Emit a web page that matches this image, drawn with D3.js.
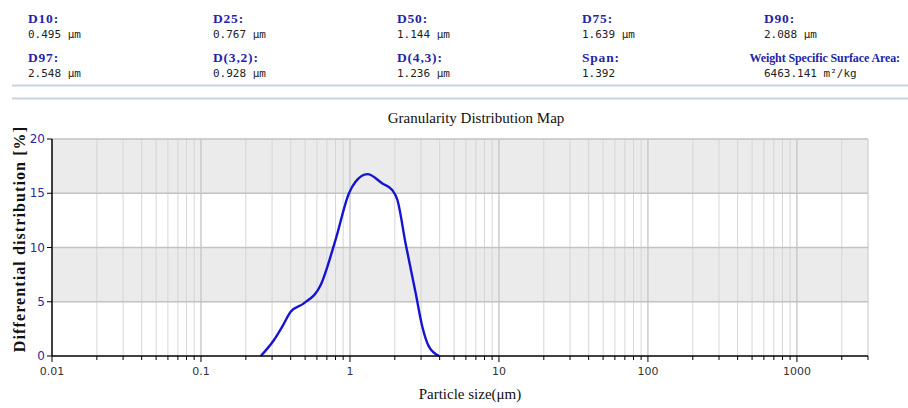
<!DOCTYPE html>
<html>
<head>
<meta charset="utf-8">
<script src="https://cdn.jsdelivr.net/npm/d3@7"></script>
<style>
  body { margin: 0; background: #fff; }
  svg { display: block; }
</style>
</head>
<body>
<div id="main"></div>
<script>
// summary stats shown in the header
const statLabels = ["D10:", "D25:", "D50:", "D75:", "D90:", "D97:", "D(3,2):", "D(4,3):", "Span:", "Weight Specific Surface Area:"];
const statValues = ["0.495 μm", "0.767 μm", "1.144 μm", "1.639 μm", "2.088 μm", "2.548 μm", "0.928 μm", "1.236 μm", "1.392", "6463.141 m²/kg"];

// distribution curve
const sizes = [0.252, 0.309, 0.351, 0.40, 0.49, 0.636, 0.80, 0.985, 1.09, 1.31, 1.65, 1.92, 2.08, 2.36, 2.76, 3.06, 3.39, 3.96];
const diffs = [0, 1.47, 2.7, 4.08, 4.85, 6.54, 10.7, 15.0, 16.05, 16.76, 15.9, 15.3, 14.4, 10.4, 5.8, 2.7, 0.86, 0];

const xTicks = [0.01, 0.1, 1, 10, 100, 1000];
const xTickLabels = ["0.01", "0.1", "1", "10", "100", "1000"];
const yTicks = [0, 5, 10, 15, 20];

const W = 908, H = 408;
const margin = { top: 139, right: 40, bottom: 52, left: 52 };
const width = W - margin.left - margin.right,
    height = H - margin.top - margin.bottom;

const svg = d3.select("#main")
    .append("svg")
    .attr("width", W)
    .attr("height", H);

// header
const colX = [28, 213, 397, 582, 764];
const header = svg.append("g");
statLabels.forEach((lab, i) => {
    const row = Math.floor(i / 5), col = i % 5;
    const last = i === 9;
    header.append("text")
        .attr("x", last ? 900 : colX[col])
        .attr("y", row === 0 ? 23 : 62)
        .attr("text-anchor", last ? "end" : "start")
        .style("font-family", "'Liberation Serif', serif")
        .style("font-weight", "bold")
        .style("font-size", last ? "12px" : "13.5px")
        .style("letter-spacing", last ? "-0.1px" : "0.8px")
        .style("fill", "#2424a8")
        .text(lab);
    header.append("text")
        .attr("x", colX[col])
        .attr("y", row === 0 ? 38 : 77)
        .style("font-family", "'DejaVu Sans Mono', monospace")
        .style("font-size", "11px")
        .style("fill", "#222")
        .text(statValues[i]);
});

header.append("line").attr("x1", 12).attr("x2", W).attr("y1", 85.5).attr("y2", 85.5)
    .style("stroke", "#c9d3df").style("stroke-width", 2);
header.append("line").attr("x1", 12).attr("x2", W).attr("y1", 98.5).attr("y2", 98.5)
    .style("stroke", "#c9d3df").style("stroke-width", 2);

// scales
const x = d3.scaleLog()
    .domain([0.01, 3000])
    .range([0, width]);

const y = d3.scaleLinear()
    .domain([0, 20])
    .range([height, 0]);

const g = svg.append("g")
    .attr("transform", `translate(${margin.left},${margin.top})`);

// alternating bands
for (let i = 0; i < yTicks.length - 1; i++) {
    g.append("rect")
        .attr("x", 0)
        .attr("y", y(yTicks[i + 1]))
        .attr("width", width)
        .attr("height", y(yTicks[i]) - y(yTicks[i + 1]))
        .style("fill", i % 2 === 1 ? "#ebebeb" : "#ffffff");
}

// vertical grid: minor and major
const allTicks = x.ticks().filter(t => t > 0.01 && t <= 3000);
g.selectAll(".vgrid")
    .data(allTicks)
    .join("line")
    .attr("class", "vgrid")
    .attr("x1", d => x(d)).attr("x2", d => x(d))
    .attr("y1", 0).attr("y2", height)
    .style("stroke", d => xTicks.includes(d) ? "#c4c4c4" : "#d6d6d6")
    .style("stroke-width", d => xTicks.includes(d) ? 1.3 : 1);

// right border
g.append("line")
    .attr("x1", width).attr("x2", width)
    .attr("y1", 0).attr("y2", height)
    .style("stroke", "#d6d6d6");

// horizontal grid
g.selectAll(".hgrid")
    .data(yTicks.filter(t => t > 0))
    .join("line")
    .attr("class", "hgrid")
    .attr("x1", 0).attr("x2", width)
    .attr("y1", d => y(d)).attr("y2", d => y(d))
    .style("stroke", "#c2c2c2")
    .style("stroke-width", 1.5);

// curve
const pts = sizes.map((s, i) => [s, diffs[i]]);
g.append("path")
    .datum(pts)
    .attr("d", d3.line()
        .x(d => x(d[0]))
        .y(d => y(d[1]))
        .curve(d3.curveMonotoneX))
    .style("fill", "none")
    .style("stroke", "#1414d2")
    .style("stroke-width", 2.4);

// x axis
const xAxis = g.append("g")
    .attr("transform", `translate(0,${height})`);
xAxis.append("line")
    .attr("x1", 0).attr("x2", width)
    .style("stroke", "#000").style("stroke-width", 1.5);
xAxis.selectAll(".xt")
    .data([0.01].concat(allTicks))
    .join("line")
    .attr("class", "xt")
    .attr("x1", d => x(d)).attr("x2", d => x(d))
    .attr("y1", 0).attr("y2", d => xTicks.includes(d) ? 6 : 4)
    .style("stroke", "#000");
xAxis.selectAll(".xl")
    .data(xTicks)
    .join("text")
    .attr("class", "xl")
    .attr("x", d => x(d))
    .attr("y", 19)
    .attr("text-anchor", "middle")
    .style("font-family", "'DejaVu Sans', sans-serif")
    .style("font-size", "11px")
    .style("fill", "#333")
    .text((d, i) => xTickLabels[i]);

// y axis
const yAxis = g.append("g");
yAxis.append("line")
    .attr("y1", 0).attr("y2", height)
    .style("stroke", "#000").style("stroke-width", 1.5);
yAxis.selectAll(".yt")
    .data(yTicks)
    .join("line")
    .attr("class", "yt")
    .attr("x1", -5).attr("x2", 0)
    .attr("y1", d => y(d)).attr("y2", d => y(d))
    .style("stroke", "#000");
yAxis.selectAll(".yl")
    .data(yTicks)
    .join("text")
    .attr("class", "yl")
    .attr("x", -7)
    .attr("y", d => y(d) + 4)
    .attr("text-anchor", "end")
    .style("font-family", "'DejaVu Sans', sans-serif")
    .style("font-size", "12px")
    .style("fill", "#2a2aa0")
    .text(d => d);

// titles
svg.append("text")
    .attr("x", 476)
    .attr("y", 123)
    .attr("text-anchor", "middle")
    .style("font-family", "'Liberation Serif', serif")
    .style("font-size", "15px")
    .style("fill", "#111")
    .text("Granularity Distribution Map");

svg.append("text")
    .attr("x", 470)
    .attr("y", 399)
    .attr("text-anchor", "middle")
    .style("font-family", "'Liberation Serif', serif")
    .style("font-size", "15px")
    .style("fill", "#111")
    .text("Particle size(μm)");

svg.append("text")
    .attr("transform", "rotate(-90)")
    .attr("x", -239)
    .attr("y", 25)
    .attr("text-anchor", "middle")
    .style("font-family", "'Liberation Serif', serif")
    .style("font-weight", "bold")
    .style("font-size", "16px")
    .style("letter-spacing", "1.1px")
    .style("fill", "#111")
    .text("Differential distribution [%]");
</script>
</body>
</html>
